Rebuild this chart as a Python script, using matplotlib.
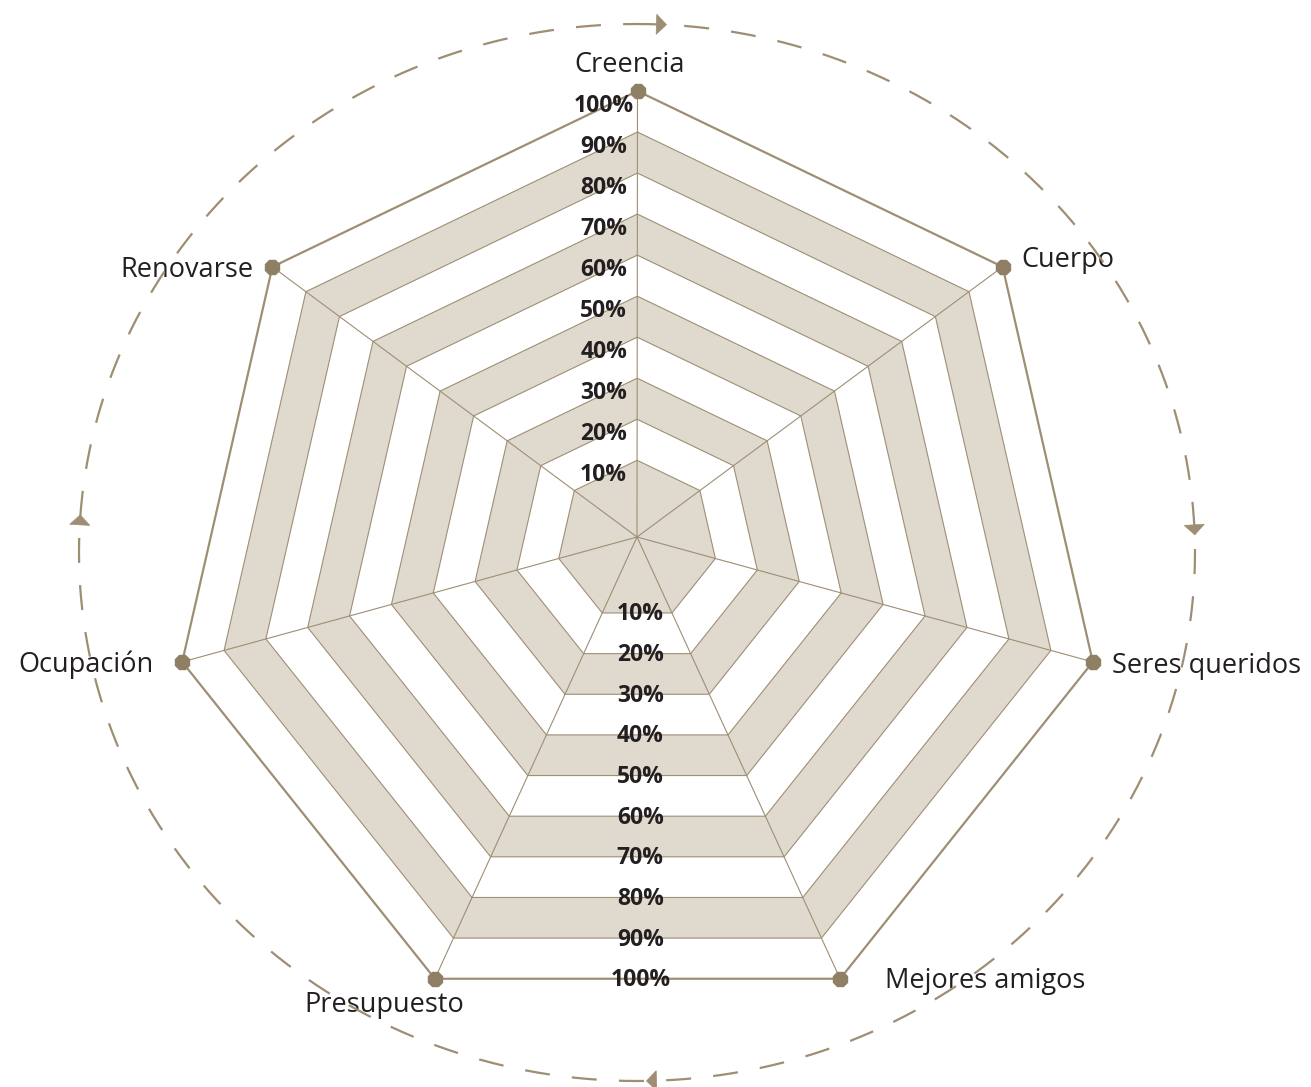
import numpy as np
import matplotlib.pyplot as plt
from matplotlib.patches import Polygon

plt.rcParams['font.family'] = ['Open Sans', 'DejaVu Sans']
plt.rcParams['lines.scale_dashes'] = False

# chart content
categories = ["Creencia", "Cuerpo", "Seres queridos", "Mejores amigos",
              "Presupuesto", "Ocupación", "Renovarse"]
levels = [0.1, 0.2, 0.3, 0.4, 0.5, 0.6, 0.7, 0.8, 0.9, 1.0]
level_labels = ["10%", "20%", "30%", "40%", "50%", "60%", "70%", "80%", "90%", "100%"]

# label placement next to each outer dot (dx, dy in px, alignment)
label_pos = [(-8, 19, 'center'), (19, 0, 'left'), (19, -11, 'left'),
             (45, -9, 'left'), (-51, -33, 'center'), (-29, -10, 'right'),
             (-19, -10, 'right')]

BEIGE = '#e0dace'
LINE = '#9e8e74'
DOT = '#8f7f65'
TEXT = '#231f20'

W, H = 1311, 1087
fig = plt.figure(figsize=(W / 100, H / 100), dpi=100)
ax = fig.add_axes([0, 0, 1, 1])
ax.set_xlim(0, W)
ax.set_ylim(0, H)
ax.axis('off')

# geometry (pixel units, y up)
n = len(categories)
theta = np.arange(n) * 2 * np.pi / n
R = 467
outer = np.column_stack([637.5 + R * np.sin(theta), 529 + R * np.cos(theta)])
hub = np.array([637.0, 550.0])
inner_gap = 0.08


def ring(lvl):
    s = inner_gap + (1 - inner_gap) * lvl
    return hub + s * (outer - hub)


# bands, from outside in
for lvl in levels[::-1]:
    k = int(round(lvl * 10))
    face = BEIGE if k % 2 else 'white'
    lw = 1.6 if k == 10 else 0.8
    ax.add_patch(Polygon(ring(lvl), closed=True, facecolor=face,
                         edgecolor=LINE, lw=lw, zorder=1))

# spokes
for v in outer:
    ax.plot([hub[0], v[0]], [hub[1], v[1]], color=LINE, lw=0.8, zorder=2)

ax.plot(outer[:, 0], outer[:, 1], '8', ms=11, color=DOT, zorder=4)

# percent labels: along the top spoke and along the bottom edge
for lvl, lab in zip(levels, level_labels):
    pts = ring(lvl)
    top = pts[0]
    ax.text(top[0] - 33.5, top[1] - 20.5, lab, ha='center', va='baseline',
            fontsize=16.5, fontweight='bold', color=TEXT, zorder=3)
    mid = (pts[3] + pts[4]) / 2
    ax.text(mid[0] + 3, mid[1] - 7.5, lab, ha='center', va='baseline',
            fontsize=16.5, fontweight='bold', color=TEXT, zorder=3)

for (x, y), name, (dx, dy, ha) in zip(outer, categories, label_pos):
    ax.text(x + dx, y + dy, name, ha=ha, va='baseline', fontsize=19.5,
            color=TEXT, zorder=3)

# dashed ellipse with clockwise arrows
ecx, ecy, rx, ry = 637, 534.5, 558, 528.5
phi = np.linspace(0, 2 * np.pi, 1441)
ax.plot(ecx + rx * np.sin(phi), ecy + ry * np.cos(phi), color=LINE, lw=1.6,
        ls=(0, (18, 16)), zorder=5)

for a in np.radians([2, 87, 178, 273]):
    base = np.array([ecx + rx * np.sin(a), ecy + ry * np.cos(a)])
    u = np.array([rx * np.cos(a), -ry * np.sin(a)])
    u = u / np.hypot(*u)
    nrm = np.array([-u[1], u[0]])
    tri = [base + 10 * nrm, base - 10 * nrm, base + 10 * u]
    ax.add_patch(Polygon(tri, closed=True, facecolor=LINE, edgecolor=LINE,
                         lw=0.5, zorder=5))

fig.savefig('out.png', dpi=100)
